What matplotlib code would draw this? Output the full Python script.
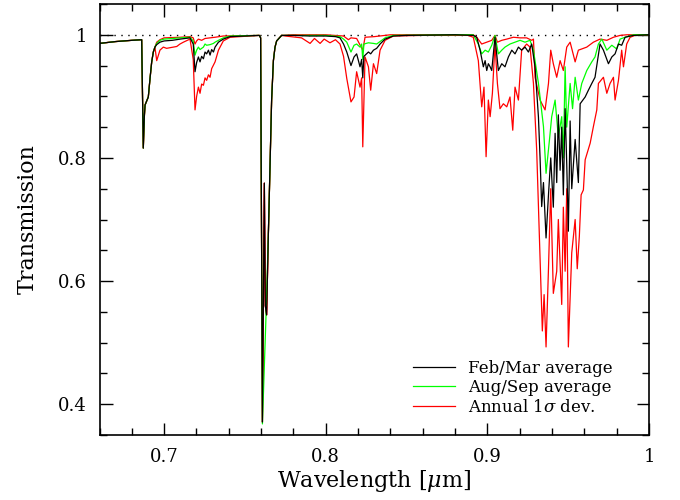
import matplotlib
matplotlib.use("Agg")
import matplotlib.pyplot as plt
from matplotlib.ticker import MultipleLocator, FixedLocator, FixedFormatter

plt.rcParams['font.family'] = ['DejaVu Serif']
plt.rcParams['mathtext.fontset'] = 'dejavuserif'

# O2 B band, common to all curves
wl_bband = [0.6600, 0.6700, 0.6800, 0.6861, 0.6871, 0.6878, 0.6882, 0.6902, 0.6913, 0.6923, 0.6933, 0.6943]
t_bband = [0.986, 0.989, 0.991, 0.992, 0.816, 0.870, 0.886, 0.899, 0.930, 0.956, 0.972, 0.980]

# O2 A band (black / red), green slightly different
wl_aband = [0.7597, 0.7608, 0.7620, 0.7626, 0.7634, 0.7645, 0.7655, 0.7665, 0.7676, 0.7686, 0.7696, 0.7727]
t_aband = [0.995, 0.371, 0.759, 0.560, 0.545, 0.678, 0.786, 0.894, 0.958, 0.980, 0.990, 0.999]
wl_aband_g = [0.7597, 0.7608, 0.7630, 0.7645, 0.7655, 0.7665, 0.7676, 0.7686, 0.7696, 0.7727]
t_aband_g = [0.995, 0.368, 0.541, 0.678, 0.786, 0.894, 0.958, 0.980, 0.990, 0.999]

# Feb/Mar average (black)
wl_feb = [0.6954, 0.6974, 0.7000, 0.7050, 0.7100, 0.7160, 0.7180, 0.7191, 0.7201, 0.7212, 0.7222, 0.7232,
          0.7243, 0.7253, 0.7263, 0.7274, 0.7284, 0.7294, 0.7305, 0.7315, 0.7336, 0.7366, 0.7408, 0.7500,
          0.7589]
t_feb = [0.984, 0.988, 0.990, 0.991, 0.993, 0.995, 0.985, 0.940, 0.955, 0.964, 0.956, 0.965,
         0.961, 0.972, 0.969, 0.975, 0.967, 0.976, 0.972, 0.980, 0.988, 0.993, 0.997, 0.998,
         0.999]
wl_feb2 = [0.7800, 0.7900, 0.8000, 0.8060, 0.8088, 0.8110, 0.8130, 0.8156, 0.8175, 0.8191, 0.8212, 0.8222,
           0.8229, 0.8236, 0.8264, 0.8278, 0.8295, 0.8315, 0.8336, 0.8367, 0.8418, 0.8500, 0.8800, 0.8913,
           0.8934, 0.8955, 0.8975, 0.8986, 0.8996, 0.9006, 0.9017, 0.9027, 0.9047, 0.9068, 0.9089, 0.9109,
           0.9130, 0.9151, 0.9171, 0.9192, 0.9212, 0.9233, 0.9254, 0.9274, 0.9295, 0.9316, 0.9326, 0.9336,
           0.9347, 0.9363, 0.9378, 0.9392, 0.9408, 0.9419, 0.9429, 0.9439, 0.9450, 0.9460, 0.9470, 0.9481,
           0.9491, 0.9501, 0.9512, 0.9522, 0.9543, 0.9563, 0.9574, 0.9605, 0.9625, 0.9646, 0.9666, 0.9697,
           0.9718, 0.9749, 0.9770, 0.9790, 0.9811, 0.9831, 0.9852, 0.9904, 1.0000]
t_feb2 = [0.999, 0.998, 0.998, 0.997, 0.995, 0.985, 0.972, 0.950, 0.964, 0.969, 0.948, 0.960,
          0.930, 0.965, 0.972, 0.969, 0.975, 0.978, 0.985, 0.993, 0.998, 0.999, 1.000, 0.999,
          0.996, 0.975, 0.948, 0.958, 0.942, 0.953, 0.948, 0.942, 0.996, 0.942, 0.953, 0.948,
          0.964, 0.975, 0.969, 0.980, 0.975, 0.980, 0.972, 0.985, 0.948, 0.866, 0.800, 0.721,
          0.760, 0.670, 0.740, 0.800, 0.720, 0.840, 0.760, 0.870, 0.780, 0.850, 0.740, 0.880,
          0.790, 0.681, 0.860, 0.750, 0.830, 0.760, 0.888, 0.899, 0.910, 0.921, 0.931, 0.985,
          0.975, 0.953, 0.964, 0.969, 0.985, 0.983, 0.996, 0.999, 1.000]

# Aug/Sep average (green)
wl_aug = [0.6954, 0.6974, 0.7000, 0.7100, 0.7160, 0.7180, 0.7191, 0.7201, 0.7212, 0.7222, 0.7243, 0.7253,
          0.7263, 0.7284, 0.7305, 0.7315, 0.7336, 0.7366, 0.7408, 0.7589]
t_aug = [0.986, 0.991, 0.993, 0.995, 0.996, 0.990, 0.967, 0.975, 0.980, 0.976, 0.980, 0.985,
         0.983, 0.984, 0.986, 0.988, 0.991, 0.995, 0.998, 0.999]
wl_aug2 = [0.7800, 0.8000, 0.8088, 0.8110, 0.8130, 0.8156, 0.8175, 0.8191, 0.8212, 0.8222, 0.8229, 0.8236,
           0.8264, 0.8295, 0.8315, 0.8367, 0.8418, 0.8800, 0.8913, 0.8944, 0.8965, 0.8986, 0.9006, 0.9027,
           0.9047, 0.9068, 0.9089, 0.9109, 0.9140, 0.9171, 0.9202, 0.9233, 0.9264, 0.9285, 0.9316, 0.9347,
           0.9363, 0.9384, 0.9398, 0.9419, 0.9439, 0.9460, 0.9470, 0.9481, 0.9491, 0.9512, 0.9527, 0.9543,
           0.9563, 0.9584, 0.9615, 0.9646, 0.9666, 0.9687, 0.9708, 0.9739, 0.9770, 0.9800, 0.9821, 0.9852,
           0.9904, 1.0000]
t_aug2 = [0.999, 0.999, 0.997, 0.993, 0.988, 0.972, 0.983, 0.985, 0.980, 0.985, 0.960, 0.985,
          0.987, 0.986, 0.985, 0.995, 0.999, 1.000, 1.000, 0.985, 0.969, 0.975, 0.972, 0.983,
          0.999, 0.969, 0.975, 0.980, 0.985, 0.988, 0.991, 0.988, 0.991, 0.975, 0.921, 0.851,
          0.775, 0.829, 0.867, 0.894, 0.834, 0.867, 0.800, 0.948, 0.850, 0.921, 0.880, 0.931,
          0.894, 0.921, 0.942, 0.956, 0.964, 0.985, 0.993, 0.975, 0.983, 0.977, 0.993, 0.996,
          1.000, 1.000]

# annual 1 sigma deviation, lower red curve
wl_lo = [0.6954, 0.6974, 0.6995, 0.7015, 0.7036, 0.7078, 0.7098, 0.7119, 0.7160, 0.7180, 0.7191, 0.7201,
         0.7212, 0.7222, 0.7232, 0.7243, 0.7253, 0.7263, 0.7274, 0.7284, 0.7294, 0.7315, 0.7336, 0.7366,
         0.7408, 0.7589]
t_lo = [0.958, 0.975, 0.980, 0.978, 0.979, 0.981, 0.985, 0.988, 0.993, 0.960, 0.878, 0.900,
        0.915, 0.905, 0.920, 0.918, 0.930, 0.926, 0.935, 0.931, 0.945, 0.956, 0.975, 0.990,
        0.996, 0.999]
wl_lo2 = [0.7750, 0.7850, 0.7903, 0.7930, 0.7965, 0.7990, 0.8026, 0.8060, 0.8088, 0.8110, 0.8130, 0.8156,
          0.8175, 0.8191, 0.8212, 0.8222, 0.8229, 0.8243, 0.8264, 0.8278, 0.8295, 0.8315, 0.8336, 0.8367,
          0.8418, 0.8600, 0.8880, 0.8913, 0.8944, 0.8965, 0.8979, 0.8992, 0.9006, 0.9017, 0.9031, 0.9047,
          0.9062, 0.9078, 0.9099, 0.9120, 0.9140, 0.9157, 0.9171, 0.9192, 0.9212, 0.9243, 0.9264, 0.9285,
          0.9305, 0.9340, 0.9351, 0.9363, 0.9378, 0.9392, 0.9408, 0.9429, 0.9439, 0.9460, 0.9470, 0.9481,
          0.9491, 0.9501, 0.9522, 0.9543, 0.9556, 0.9569, 0.9580, 0.9594, 0.9605, 0.9636, 0.9656, 0.9677,
          0.9687, 0.9718, 0.9739, 0.9759, 0.9780, 0.9790, 0.9811, 0.9831, 0.9842, 0.9862, 0.9883, 0.9924,
          1.0000]
t_lo2 = [0.998, 0.995, 0.986, 0.994, 0.986, 0.993, 0.987, 0.992, 0.985, 0.965, 0.929, 0.891,
         0.899, 0.940, 0.915, 0.930, 0.818, 0.964, 0.948, 0.910, 0.953, 0.937, 0.975, 0.991,
         0.998, 0.999, 0.999, 0.996, 0.958, 0.883, 0.915, 0.802, 0.894, 0.867, 0.905, 0.985,
         0.921, 0.880, 0.888, 0.883, 0.899, 0.845, 0.915, 0.894, 0.975, 0.985, 0.980, 0.921,
         0.813, 0.519, 0.578, 0.493, 0.620, 0.750, 0.580, 0.616, 0.700, 0.562, 0.720, 0.616,
         0.750, 0.493, 0.646, 0.700, 0.620, 0.673, 0.740, 0.748, 0.797, 0.824, 0.851, 0.878,
         0.921, 0.931, 0.905, 0.921, 0.931, 0.894, 0.926, 0.975, 0.948, 0.985, 0.996, 1.000,
         1.000]

# annual 1 sigma deviation, upper red curve
wl_hi = [0.6954, 0.6974, 0.7000, 0.7100, 0.7160, 0.7180, 0.7191, 0.7201, 0.7212, 0.7232, 0.7253, 0.7284,
         0.7315, 0.7366, 0.7589]
t_hi = [0.988, 0.992, 0.995, 0.996, 0.997, 0.995, 0.985, 0.990, 0.993, 0.991, 0.994, 0.995,
        0.996, 0.998, 0.999]
wl_hi2 = [0.7800, 0.8000, 0.8110, 0.8140, 0.8156, 0.8191, 0.8229, 0.8243, 0.8300, 0.8400, 0.8913, 0.8934,
          0.8965, 0.8996, 0.9027, 0.9047, 0.9062, 0.9089, 0.9120, 0.9161, 0.9202, 0.9243, 0.9274, 0.9285,
          0.9295, 0.9326, 0.9357, 0.9378, 0.9392, 0.9408, 0.9429, 0.9450, 0.9470, 0.9491, 0.9512, 0.9543,
          0.9563, 0.9584, 0.9615, 0.9656, 0.9697, 0.9739, 0.9780, 0.9821, 0.9862, 1.0000]
t_hi2 = [1.000, 1.000, 0.998, 0.992, 0.995, 0.994, 0.975, 0.996, 0.997, 1.000, 1.000, 0.996,
         0.985, 0.988, 0.991, 0.999, 0.988, 0.991, 0.993, 0.996, 0.995, 0.995, 0.991, 0.993,
         0.931, 0.894, 0.878, 0.921, 0.975, 0.953, 0.931, 0.958, 0.942, 0.980, 0.988, 0.956,
         0.975, 0.977, 0.980, 0.988, 0.993, 0.991, 0.996, 0.999, 1.000, 1.000]

labels = ['Feb/Mar average', 'Aug/Sep average', r'Annual 1$\sigma$ dev.']

fig = plt.figure(figsize=(6.8, 5), dpi=100)
ax = fig.add_axes([99.5 / 680, 65 / 500, 549.5 / 680, 431 / 500])

ax.plot([0.66, 1.0], [1.0, 1.0], color='black', lw=1, linestyle=(0, (1, 4)))

lw = 0.9
ax.plot(wl_bband + wl_lo + wl_aband + wl_lo2, t_bband + t_lo + t_aband + t_lo2, color='#ff0000', lw=lw)
ax.plot(wl_bband + wl_hi + wl_aband + wl_hi2, t_bband + t_hi + t_aband + t_hi2, color='#ff0000', lw=lw)
ax.plot(wl_bband + wl_aug + wl_aband_g + wl_aug2, t_bband + t_aug + t_aband_g + t_aug2, color='#00ff00', lw=lw)
ax.plot(wl_bband + wl_feb + wl_aband + wl_feb2, t_bband + t_feb + t_aband + t_feb2, color='black', lw=lw)

ax.set_xlim(0.66, 1.0)
ax.set_ylim(0.35, 1.05)
ax.xaxis.set_major_locator(FixedLocator([0.7, 0.8, 0.9, 1.0]))
ax.xaxis.set_major_formatter(FixedFormatter(['0.7', '0.8', '0.9', '1']))
ax.xaxis.set_minor_locator(MultipleLocator(0.02))
ax.yaxis.set_major_locator(FixedLocator([0.4, 0.6, 0.8, 1.0]))
ax.yaxis.set_major_formatter(FixedFormatter(['0.4', '0.6', '0.8', '1']))
ax.yaxis.set_minor_locator(MultipleLocator(0.05))
ax.tick_params(which='both', direction='in', top=True, right=True, width=1, labelsize=13)
ax.tick_params(which='major', length=9, pad=9)
ax.tick_params(which='minor', length=5)
for s in ax.spines.values():
    s.set_linewidth(1.2)

ax.set_xlabel(r'Wavelength [$\mu$m]', fontsize=16, labelpad=2)
ax.set_ylabel('Transmission', fontsize=16, labelpad=14)

handles = [plt.Line2D([], [], color=c, lw=lw) for c in ['black', '#00ff00', '#ff0000']]
ax.legend(handles, labels, loc='lower left', bbox_to_anchor=((413 - 99.5) / 549.5, 0.045),
          frameon=False, fontsize=12, handlelength=2.5, handletextpad=0.8,
          labelspacing=0.15, borderpad=0, borderaxespad=0)

fig.savefig('out.png', dpi=100)
